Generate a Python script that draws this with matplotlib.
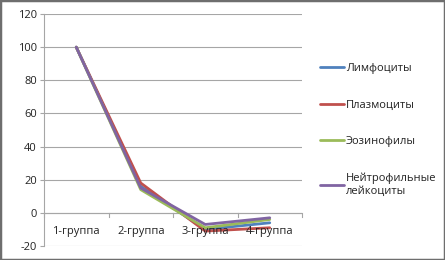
import matplotlib
matplotlib.use("Agg")
import matplotlib.pyplot as plt
from matplotlib.patches import Rectangle

categories = ["1-группа", "2-группа", "3-группа", "4-группа"]
series_names = ["Лимфоциты", "Плазмоциты", "Эозинофилы", "Нейтрофильные\nлейкоциты"]
limfo = [100, 16, -10, -6]
plazmo = [100, 18, -11, -9]
eozino = [100, 14, -9, -4]
neitro = [100, 15, -7, -3]
colors = ["#4F81BD", "#C0504D", "#9BBB59", "#8064A2"]
yticks = [-20, 0, 20, 40, 60, 80, 100, 120]

plt.rcParams['font.family'] = ['Open Sans', 'DejaVu Sans']
fs = 8
fig = plt.figure(figsize=(4.45, 2.6), dpi=100)
ax = fig.add_axes([44/445, 1-246/260, 258/445, 232/260])

xs = [i + 0.5 for i in range(len(categories))]
for vals, c, name in zip([limfo, plazmo, eozino, neitro], colors, series_names):
    ax.plot(xs, vals, color=c, lw=2.0, label=name, solid_capstyle='round')

ax.set_xlim(0, 4)
ax.set_ylim(-20, 120)
ax.set_yticks(yticks)
ax.set_yticklabels([str(v) for v in yticks], fontsize=fs, color="#222222")
ax.grid(axis='y', color="#A6A6A6", lw=0.8)
ax.set_axisbelow(True)
for s in ['top', 'right', 'bottom']:
    ax.spines[s].set_visible(False)
ax.spines['left'].set_color("#A6A6A6")
ax.tick_params(axis='y', length=3, color="#A6A6A6", pad=2)
ax.set_xticks([])
# category axis at zero
ax.axhline(0, color="#A6A6A6", lw=0.8, zorder=1)
for b in range(5):
    ax.plot([b, b], [0, -2.5], color="#A6A6A6", lw=0.8, clip_on=False, zorder=1)
for x, lab in zip(xs, categories):
    ax.text(x, -11.5, lab, ha='center', va='center', fontsize=fs, color="#222222")

leg = ax.legend(loc='upper left', bbox_to_anchor=(320/445, 1-63/260), bbox_transform=fig.transFigure,
                frameon=False, fontsize=fs, handlelength=2.2, handletextpad=0.15,
                labelspacing=2.3, borderaxespad=0, borderpad=0)
for t in leg.get_texts():
    t.set_color("#222222")

fig.patches.append(Rectangle((0, 0), 1, 1, transform=fig.transFigure, fill=False,
                             edgecolor="#6E6E6E", lw=2.5, zorder=10))
fig.savefig("out.png", dpi=100)
